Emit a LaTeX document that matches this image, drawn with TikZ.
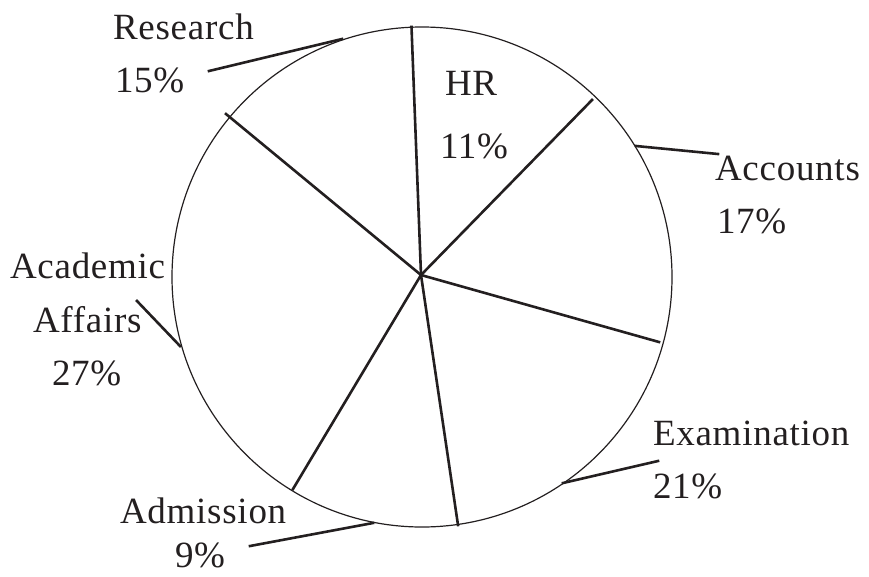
\documentclass[tikz,border=0pt]{standalone}
\usepackage{fontspec}
\setmainfont{Liberation Serif}[LetterSpace=2.0]
\begin{document}
\begin{tikzpicture}[x=1pt,y=-1pt,line cap=rect]
\def\piefont{\fontsize{37pt}{37pt}\selectfont} % labels of the pie
\definecolor{custcol_23_1f_20}{RGB}{35, 31, 32}
\tikzset{lbl/.style={inner sep=0, outer sep=0, custcol_23_1f_20, anchor=base west, font=\piefont}}
\useasboundingbox (0.0,0.0) rectangle (869.0,576.0);
% rim and spokes
\draw [line width=1.2pt, custcol_23_1f_20 ]  (422.0,277.0) circle (250.0) ;
\coordinate (hub) at (421.0,275.0);
\coordinate (hr_top) at (411.5,27.0);
\coordinate (hr_acc) at (592.0,100.0);
\coordinate (acc_exa) at (659.0,342.0);
\coordinate (exa_adm) at (458.0,525.0);
\coordinate (adm_aca) at (293.0,489.0);
\coordinate (aca_res) at (226.0,114.0);
\draw [line width=2.6pt, custcol_23_1f_20 ]  (hub) -- (hr_top) ;
\draw [line width=2.6pt, custcol_23_1f_20 ]  (hub) -- (hr_acc) ;
\draw [line width=2.6pt, custcol_23_1f_20 ]  (hub) -- (acc_exa) ;
\draw [line width=2.6pt, custcol_23_1f_20 ]  (hub) -- (exa_adm) ;
\draw [line width=2.6pt, custcol_23_1f_20 ]  (hub) -- (adm_aca) ;
\draw [line width=2.6pt, custcol_23_1f_20 ]  (hub) -- (aca_res) ;
% labels
\node[lbl] (research) at (113.0,39.0) {Research};
\node[lbl] (research_p) at (115.0,92.0) {15\%};
\node[lbl] (hr) at (445.0,95.0) {HR};
\node[lbl] (hr_p) at (440.0,158.0) {11\%};
\node[lbl] (accounts) at (715.0,180.0) {Accounts};
\node[lbl] (accounts_p) at (717.0,233.0) {17\%};
\node[lbl] (academic) at (10.0,278.0) {Academic};
\node[lbl] (affairs) at (33.0,332.0) {Affairs};
\node[lbl] (academic_p) at (52.0,385.0) {27\%};
\node[lbl] (admission) at (120.0,523.0) {Admission};
\node[lbl] (admission_p) at (175.0,567.0) {9\%};
\node[lbl] (examination) at (653.0,445.0) {Examination};
\node[lbl] (examination_p) at (653.0,498.0) {21\%};
% leader lines
\coordinate (res_rim) at (342.0,39.0);
\coordinate (res_end) at (209.0,71.0);
\coordinate (acc_rim) at (636.0,146.0);
\coordinate (acc_end) at (718.0,154.0);
\coordinate (aca_rim) at (180.0,346.0);
\coordinate (aca_end) at (137.0,301.0);
\coordinate (adm_rim) at (373.0,523.0);
\coordinate (adm_end) at (250.0,546.0);
\coordinate (exa_rim) at (563.0,483.0);
\coordinate (exa_end) at (658.0,461.0);
\draw [line width=2.6pt, custcol_23_1f_20 ]  (res_rim) -- (res_end) ;
\draw [line width=2.6pt, custcol_23_1f_20 ]  (acc_rim) -- (acc_end) ;
\draw [line width=2.6pt, custcol_23_1f_20 ]  (aca_rim) -- (aca_end) ;
\draw [line width=2.6pt, custcol_23_1f_20 ]  (adm_rim) -- (adm_end) ;
\draw [line width=2.6pt, custcol_23_1f_20 ]  (exa_rim) -- (exa_end) ;
\end{tikzpicture}
\end{document}
